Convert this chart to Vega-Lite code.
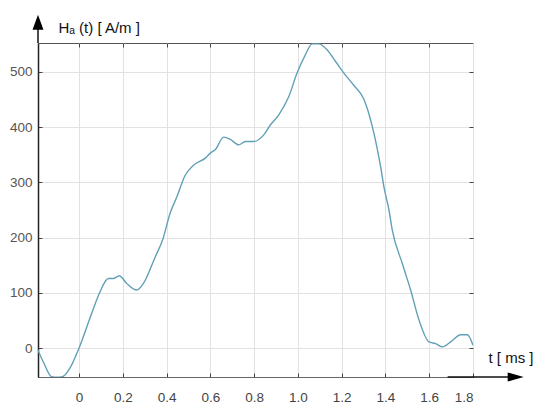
{
  "$schema": "https://vega.github.io/schema/vega-lite/v6.json",
  "width": 435,
  "height": 334,
  "autosize": "none",
  "padding": {"left": 38, "top": 43, "right": 77, "bottom": 39},
  "background": "white",
  "config": {"view": {"stroke": "#555", "strokeWidth": 1}, "font": "Liberation Sans"},
  "datasets": {
    "curve": [
      {"t": -0.19, "H": -2}, {"t": -0.16, "H": -28}, {"t": -0.125, "H": -52}, {"t": -0.1, "H": -53},
      {"t": -0.076, "H": -52}, {"t": -0.041, "H": -36}, {"t": 0.0, "H": 0}, {"t": 0.058, "H": 63},
      {"t": 0.096, "H": 102}, {"t": 0.134, "H": 126}, {"t": 0.157, "H": 126}, {"t": 0.184, "H": 131},
      {"t": 0.218, "H": 117}, {"t": 0.264, "H": 105}, {"t": 0.294, "H": 117}, {"t": 0.348, "H": 165},
      {"t": 0.383, "H": 197}, {"t": 0.416, "H": 244}, {"t": 0.447, "H": 274}, {"t": 0.485, "H": 313},
      {"t": 0.523, "H": 331}, {"t": 0.577, "H": 344}, {"t": 0.6, "H": 353}, {"t": 0.622, "H": 359},
      {"t": 0.661, "H": 382}, {"t": 0.691, "H": 378}, {"t": 0.729, "H": 368}, {"t": 0.76, "H": 374},
      {"t": 0.798, "H": 374}, {"t": 0.844, "H": 386}, {"t": 0.874, "H": 404}, {"t": 0.912, "H": 422},
      {"t": 0.958, "H": 455}, {"t": 0.996, "H": 498}, {"t": 1.034, "H": 531}, {"t": 1.065, "H": 551},
      {"t": 1.095, "H": 551}, {"t": 1.134, "H": 540}, {"t": 1.172, "H": 519}, {"t": 1.21, "H": 498},
      {"t": 1.255, "H": 476}, {"t": 1.301, "H": 451}, {"t": 1.34, "H": 401}, {"t": 1.378, "H": 328},
      {"t": 1.393, "H": 292}, {"t": 1.416, "H": 250}, {"t": 1.431, "H": 214}, {"t": 1.477, "H": 153},
      {"t": 1.515, "H": 105}, {"t": 1.553, "H": 51}, {"t": 1.599, "H": 11}, {"t": 1.629, "H": 8},
      {"t": 1.66, "H": 2}, {"t": 1.698, "H": 11}, {"t": 1.744, "H": 24}, {"t": 1.774, "H": 24},
      {"t": 1.8, "H": 5}
    ],
    "xarrow": [{"t0": 1.684, "t1": 1.995, "H": -52.5}],
    "yarrow": [{"t": -0.1875, "H0": 552.5, "H1": 590}]
  },
  "resolve": {"axis": {"x": "independent", "y": "independent"}},
  "layer": [
    {
      "data": {"name": "curve"},
      "mark": {"type": "line", "color": "#62a0b6", "strokeWidth": 1.4, "interpolate": "monotone", "clip": true},
      "encoding": {
        "x": {
          "field": "t", "type": "quantitative",
          "scale": {"domain": [-0.1875, 1.8], "nice": false, "zero": false},
          "axis": {
            "orient": "bottom", "values": [0, 0.2, 0.4, 0.6, 0.8, 1.0, 1.2, 1.4, 1.6, 1.8],
            "labelExpr": "datum.value == 0 ? '0' : format(datum.value, '.1f')",
            "grid": true, "gridColor": "#e2e2e2", "domainColor": "#666", "tickColor": "#444",
            "tickSize": -4, "labelPadding": 17, "labelFontSize": 13.5, "labelColor": "#444",
            "labelFont": "Liberation Sans",
            "title": "t [ ms ]", "titleX": 450, "titleY": -15, "titleAlign": "left",
            "titleBaseline": "alphabetic", "titleFontSize": 15, "titleFontWeight": "normal",
            "titleColor": "#111", "titleFont": "Liberation Sans"
          }
        },
        "y": {
          "field": "H", "type": "quantitative",
          "scale": {"domain": [-52.5, 552.5], "nice": false, "zero": false},
          "axis": {
            "orient": "left", "values": [0, 100, 200, 300, 400, 500], "format": "d",
            "grid": true, "gridColor": "#e2e2e2", "domainColor": "#222", "domainWidth": 1.5,
            "tickColor": "#444", "tickSize": -4, "labelPadding": 10, "labelFontSize": 13.5,
            "labelColor": "#555", "labelFont": "Liberation Sans",
            "title": "Hₐ (t) [ A/m ]", "titleX": 20, "titleY": -10.5, "titleAngle": 0,
            "titleAlign": "left", "titleBaseline": "alphabetic", "titleFontSize": 15,
            "titleFontWeight": "normal", "titleColor": "#111", "titleFont": "Liberation Sans"
          }
        }
      }
    },
    {
      "data": {"name": "curve"},
      "mark": {"type": "line", "opacity": 0},
      "encoding": {
        "x": {
          "field": "t", "type": "quantitative",
          "axis": {"orient": "top", "values": [0, 0.2, 0.4, 0.6, 0.8, 1.0, 1.2, 1.4, 1.6], "labels": false,
                   "grid": false, "domain": false, "tickColor": "#444", "tickSize": -4, "title": null}
        },
        "y": {
          "field": "H", "type": "quantitative",
          "axis": {"orient": "right", "values": [0, 100, 200, 300, 400, 500], "labels": false,
                   "grid": false, "domain": false, "tickColor": "#444", "tickSize": -4, "title": null}
        }
      }
    },
    {
      "data": {"name": "xarrow"},
      "mark": {"type": "rule", "color": "#111", "strokeWidth": 1.5},
      "encoding": {
        "x": {"field": "t0", "type": "quantitative", "axis": null},
        "x2": {"field": "t1"},
        "y": {"field": "H", "type": "quantitative", "axis": null}
      }
    },
    {
      "data": {"name": "xarrow"},
      "mark": {"type": "point", "shape": "M1,0L-1,-0.56L-1,0.56Z", "filled": true, "color": "#000", "opacity": 1, "size": 256},
      "encoding": {
        "x": {"field": "t1", "type": "quantitative", "axis": null},
        "y": {"field": "H", "type": "quantitative", "axis": null}
      }
    },
    {
      "data": {"name": "yarrow"},
      "mark": {"type": "rule", "color": "#111", "strokeWidth": 1.5},
      "encoding": {
        "x": {"field": "t", "type": "quantitative", "axis": null},
        "y": {"field": "H0", "type": "quantitative", "axis": null},
        "y2": {"field": "H1"}
      }
    },
    {
      "data": {"name": "yarrow"},
      "mark": {"type": "point", "shape": "M0,-1L0.73,1L-0.73,1Z", "filled": true, "color": "#000", "opacity": 1, "size": 225},
      "encoding": {
        "x": {"field": "t", "type": "quantitative", "axis": null},
        "y": {"field": "H1", "type": "quantitative", "axis": null}
      }
    }
  ]
}
